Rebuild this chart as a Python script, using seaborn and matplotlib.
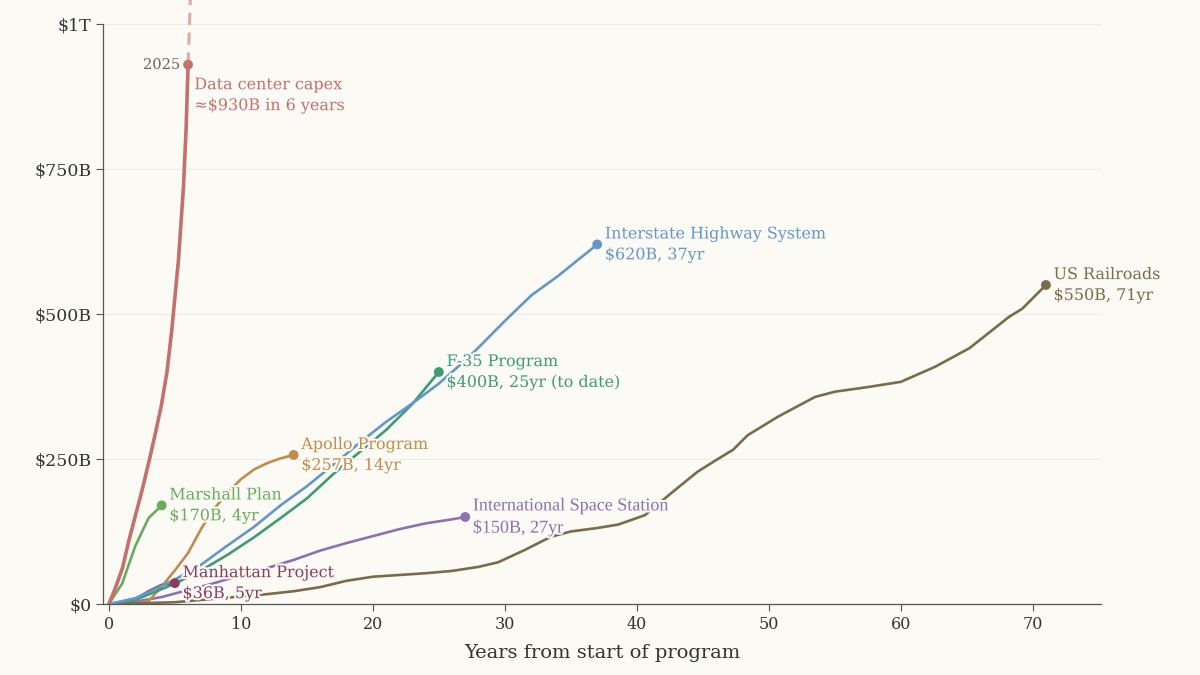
import pandas as pd
import matplotlib
matplotlib.use('Agg')
import matplotlib.pyplot as plt
import matplotlib.patheffects as pe
import seaborn as sns

# Cumulative spending (billions of USD) by year since program start
dc_years = [0, 0.5, 1.03, 1.5, 2.05, 2.5, 3.08, 3.5, 3.98, 4.4, 4.75, 5.27, 5.65, 5.85, 6]
dc_vals = [0, 28, 62, 108, 156, 195, 250, 292, 343, 400, 469, 593, 719, 820, 930]
dc_proj_years = [6, 6.35]
dc_proj_vals = [930, 1160]

hw_years = [0, 2, 5, 7, 9, 11, 13, 15, 17, 19, 21, 23, 25, 27, 28, 30, 32, 34, 37]
hw_vals = [0, 10, 42, 68, 101, 133, 170, 203, 240, 278, 314, 346, 380, 420, 442, 488, 532, 565, 620]

rr_years = [0, 5, 10, 12, 14, 16, 18, 20, 22, 24, 26, 28, 29.5, 31.5, 33.5, 35, 37, 38.6,
            40.6, 42.6, 44.6, 46, 47.3, 48.4, 50.7, 53.5, 55, 57.5, 60, 62.6, 65.2, 68.2, 69.2, 71]
rr_vals = [0, 3, 13, 17, 22, 29, 40, 47, 50, 53, 57, 64, 72, 93, 116, 125, 131, 137,
           153, 191, 228, 248, 266, 291, 323, 357, 366, 374, 383, 409, 441, 495, 509, 550]

f35_years = [0, 2, 5, 7, 9, 11, 13, 15, 17, 19, 21, 23, 25]
f35_vals = [0, 7, 35, 58, 85, 115, 148, 182, 224, 262, 300, 345, 400]

apollo_years = list(range(0, 15))
apollo_vals = [0, 0, 1, 5, 30, 58, 88, 130, 165, 192, 215, 232, 243, 251, 257]

marshall_years = [0, 1, 2, 3, 4]
marshall_vals = [0, 35, 100, 148, 170]

iss_years = [0, 2, 4, 6, 8, 10, 12, 14, 16, 18, 20, 22, 24, 26, 27]
iss_vals = [0, 4, 12, 24, 36, 50, 62, 76, 92, 105, 117, 129, 139, 146, 150]

mp_years = [0, 1, 2, 3, 4, 5]
mp_vals = [0, 2, 8, 22, 33, 36]

names = ['Data center capex', 'Interstate Highway System', 'US Railroads', 'F-35 Program',
         'Apollo Program', 'Marshall Plan', 'International Space Station', 'Manhattan Project']
labels = ['Data center capex\n\u2248$930B in 6 years', 'Interstate Highway System\n$620B, 37yr',
          'US Railroads\n$550B, 71yr', 'F-35 Program\n$400B, 25yr (to date)',
          'Apollo Program\n$257B, 14yr', 'Marshall Plan\n$170B, 4yr',
          'International Space Station\n$150B, 27yr', 'Manhattan Project\n$36B, 5yr']
colors = ['#c4706c', '#6497c9', '#7a6b4a', '#3f9a78', '#c38b4c', '#6aab5f', '#8c72b2', '#8b3b5c']

series = [(dc_years, dc_vals), (hw_years, hw_vals), (rr_years, rr_vals), (f35_years, f35_vals),
          (apollo_years, apollo_vals), (marshall_years, marshall_vals), (iss_years, iss_vals),
          (mp_years, mp_vals)]

bg = '#fbfaf5'
sns.set_theme(style='white')
plt.rcParams['font.family'] = ['DejaVu Serif', 'DejaVu Sans']

fig = plt.figure(figsize=(12, 6.75), dpi=100, facecolor=bg)
ax = fig.add_axes([0.0858, 0.1052, 0.832, 0.8592])
ax.set_facecolor(bg)

# draw in reverse so data center sits on top
for name, (xs, ys), col in reversed(list(zip(names, series, colors))):
    lw = 2.6 if name == 'Data center capex' else 1.9
    sns.lineplot(x=xs, y=ys, ax=ax, color=col, lw=lw, zorder=3)

sns.lineplot(x=dc_proj_years, y=dc_proj_vals, ax=ax, color='#e0aaa6', lw=2.2,
             linestyle=(0, (4, 2.5)), clip_on=False, zorder=2)

end_df = pd.DataFrame({'name': names,
                       'year': [s[0][-1] for s in series],
                       'value': [s[1][-1] for s in series]})
sns.scatterplot(data=end_df, x='year', y='value', hue='name', palette=dict(zip(names, colors)),
                s=50, edgecolor='none', legend=False, ax=ax, zorder=4)

halo = [pe.withStroke(linewidth=3, foreground=bg)]
offsets = {'Data center capex': (4.5, -22)}
for name, lab, col, yr, val in zip(names, labels, colors, end_df['year'], end_df['value']):
    off = offsets.get(name, (5.5, 0))
    if name == 'International Space Station':
        fam, fs = ['Liberation Serif', 'DejaVu Serif'], 13
    else:
        fam, fs = ['DejaVu Serif', 'DejaVu Sans'], 11.5
    ax.annotate(lab, (yr, val), xytext=off, textcoords='offset points', ha='left', va='center',
                color=col, fontsize=fs, family=fam, linespacing=1.3, path_effects=halo, zorder=5)

ax.annotate('2025', (6, 930), xytext=(-5.5, 0), textcoords='offset points', ha='right',
            va='center', color='#666666', fontsize=10.5, zorder=5)

ax.set_xlim(-0.45, 75.2)
ax.set_ylim(0, 1000)
ax.set_xticks(range(0, 80, 10))
ax.set_yticks([0, 250, 500, 750, 1000])
ax.set_yticklabels(['$0', '$250B', '$500B', '$750B', '$1T'])
ax.yaxis.grid(True, color='#ecebe5', lw=0.8)
ax.xaxis.grid(False)
ax.tick_params(axis='y', labelsize=12.5, colors='#333333', length=5, width=0.8, direction='out', left=True)
ax.tick_params(axis='x', labelsize=11.5, colors='#333333', length=5, width=0.8, direction='out', bottom=True)
ax.tick_params(axis='both', color='#555555')
for s in ['top', 'right']:
    ax.spines[s].set_visible(False)
for s in ['left', 'bottom']:
    ax.spines[s].set_color('#555555')
    ax.spines[s].set_linewidth(0.9)
ax.set_xlabel('Years from start of program', fontsize=14, color='#333333', labelpad=8)
ax.set_ylabel('')

fig.savefig('out.png', dpi=100, facecolor=bg)
